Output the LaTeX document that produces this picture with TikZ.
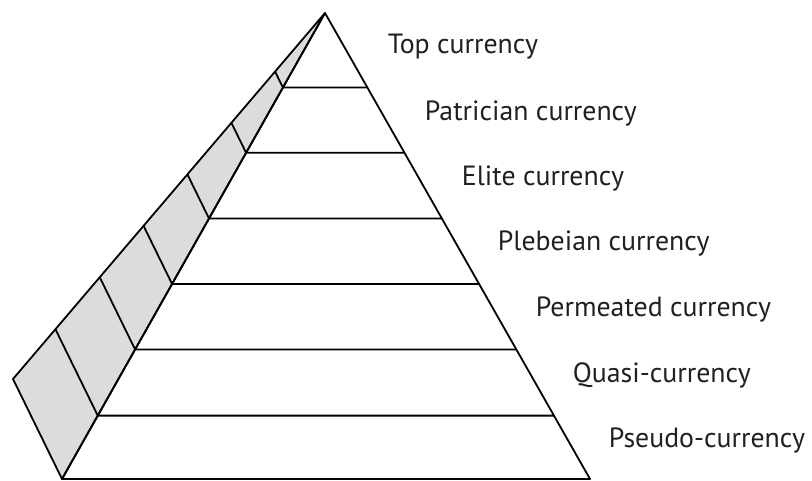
\documentclass[tikz,border=0pt]{standalone}
\usepackage{fontspec}
\setmainfont{PT Sans}
\usetikzlibrary{calc}
\definecolor{sidegray}{RGB}{220,220,222}
\definecolor{labelink}{RGB}{35,31,32}

\begin{document}
\begin{tikzpicture}[x=1pt, y=-1pt, line width=1.8pt, line join=round,
    tier/.style={anchor=base west, inner sep=0pt, text=labelink,
      font=\fontsize{27.8}{32}\selectfont}]
    \useasboundingbox (0,0) rectangle (812,480);

    \coordinate (apex) at (325,13);
    \coordinate (bl) at (62,479);
    \coordinate (br) at (590,479);
    \coordinate (ol) at (13,379);

    % side face
    \filldraw[fill=sidegray] (apex) -- (ol) -- (bl) -- cycle;

    % levels
    \foreach \t in {0.16,0.30,0.441,0.5815,0.722,0.864} {
        \draw ($(apex)!\t!(ol)$) -- ($(apex)!\t!(bl)$) -- ($(apex)!\t!(br)$);
    }
    \draw (apex) -- (bl) -- (br) -- cycle;

    \node[tier] (top)   at (387,53)  {Top currency};
    \node[tier] (patr)  at (424,120) {Patrician currency};
    \node[tier] (elite) at (461,185) {Elite currency};
    \node[tier] (pleb)  at (497,250) {Plebeian currency};
    \node[tier] (perm)  at (535,316) {Permeated currency};
    \node[tier] (quasi) at (572,382) {Quasi-currency};
    \node[tier] (pseu)  at (608,447) {Pseudo-currency};
\end{tikzpicture}
\end{document}
